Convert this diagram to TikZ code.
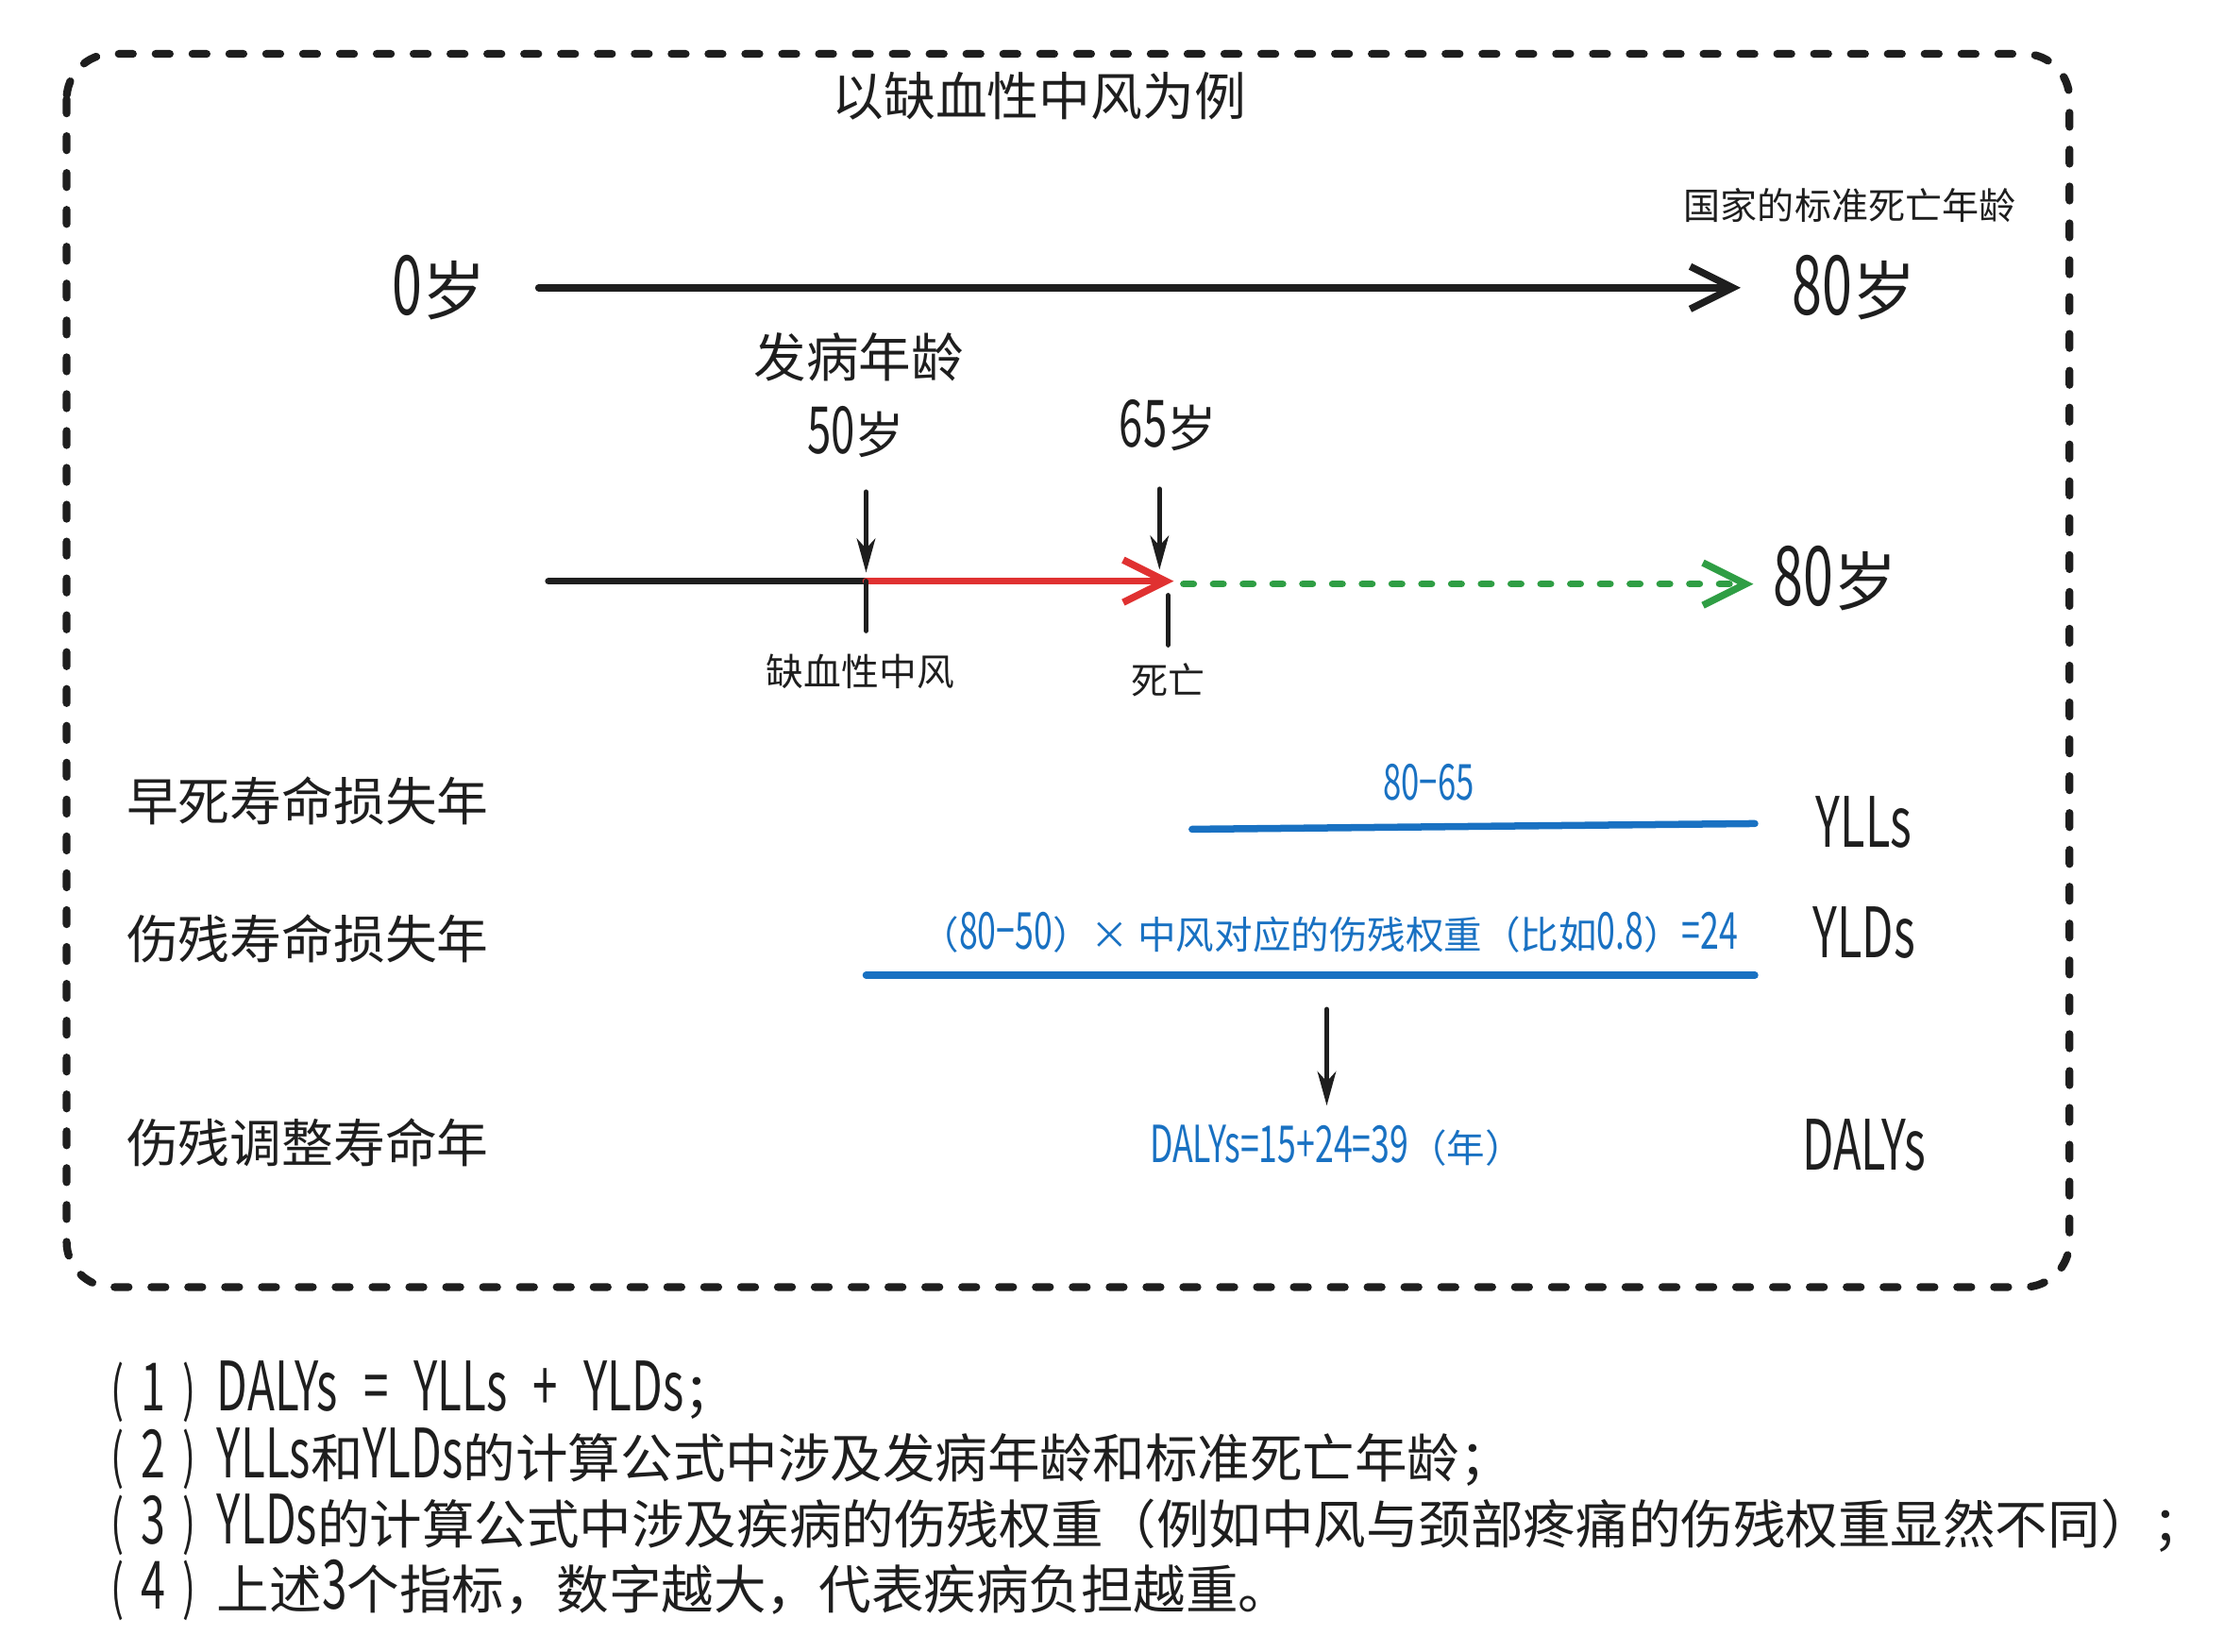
\documentclass[tikz,border=0pt]{standalone}
\usepackage{fontspec}
\setmainfont{Noto Sans CJK SC}
\newfontfamily\nar[FakeStretch=0.66]{Noto Sans CJK SC}
\usetikzlibrary{arrows.meta}
\definecolor{ink}{HTML}{1E1E1E}
\definecolor{exblue}{HTML}{1971C2}
\definecolor{exred}{HTML}{E03131}
\definecolor{exgreen}{HTML}{2F9E44}
\newcommand\LT[2]{{\fontsize{#1}{#1}\nar #2}}
\newcommand\FS[1]{\fontsize{#1}{#1}\selectfont}
\newcommand\NUM[1]{\LT{42}{(}\hspace{12pt}\LT{47}{#1}\hspace{12pt}\LT{42}{)}\hspace{15pt}}
\tikzset{
  txt/.style={inner sep=0pt, text=ink},
  btxt/.style={inner sep=0pt, text=exblue},
  thick line/.style={line width=5pt, line cap=round, line join=round},
  chev/.style={-{Straight Barb[length=30pt,width=30pt,line width=5pt]}},
  thin arrow/.style={line width=3.5pt, line cap=round, -{Stealth[length=24pt,width=13pt,inset=7pt]}},
  tickline/.style={line width=3.5pt, line cap=round, ink},
}
\begin{document}
\begin{tikzpicture}[x=1pt,y=-1pt]
\useasboundingbox (0,0) rectangle (1569,1165);
% frame
\draw[ink, line width=5.5pt, line cap=round, dash pattern=on 10pt off 16pt, rounded corners=32pt]
  (47,38) rectangle (1460,908);
% texts
\node[txt] (title) at (733,68) {\FS{36.5}以缺血性中风为例};
\node[txt] (std) at (1305,145) {\FS{26}国家的标准死亡年龄};
\node[txt] (age0) at (310,203) {\LT{58}{0}\FS{45}岁};
\node[txt] (age80a) at (1308,203) {\LT{58}{80}\FS{45}岁};
\node[txt] (onset) at (606,252) {\FS{37}发病年龄};
\node[txt] (age50) at (604,305) {\LT{46}{50}\FS{35}岁};
\node[txt] (age65) at (824,300) {\LT{46}{65}\FS{35}岁};
\node[txt] (age80b) at (1295,408) {\LT{58}{80}\FS{45}岁};
\node[txt] (stroke) at (607,474) {\FS{26.5}缺血性中风};
\node[txt] (death) at (824,480) {\FS{26}死亡};
\node[txt] (r1) at (217,565) {\FS{36.5}早死寿命损失年};
\node[txt] (r2) at (217,662) {\FS{36.5}伤残寿命损失年};
\node[txt] (r3) at (217,806) {\FS{36.5}伤残调整寿命年};
\node[btxt] (f1) at (1008,552) {\LT{35}{80−65}};
\node[txt] (yll) at (1315,580) {\LT{49}{YLLs}};
\node[txt] (yld) at (1315,658) {\LT{49}{YLDs}};
\node[txt] (daly) at (1315,808) {\LT{49}{DALYs}};
\node[btxt] (f2) at (938,658) {\FS{27}（\LT{36}{80−50}）× 中风对应的伤残权重（比如\LT{36}{0.8}）\LT{36}{=24}};
\node[btxt] (f3) at (943,808) {\LT{36}{DALYs=15+24=39}\FS{27}（年）};
% notes
\node[txt, anchor=west] (n1) at (78,982) {\FS{37}\NUM{1}\LT{48}{DALYs\hspace{18pt}=\hspace{18pt}YLLs\hspace{18pt}+\hspace{18pt}YLDs}；};
\node[txt, anchor=west] (n2) at (78,1029) {\FS{37}\NUM{2}\LT{48}{YLLs}和\LT{48}{YLDs}的计算公式中涉及发病年龄和标准死亡年龄；};
\node[txt, anchor=west] (n3) at (78,1076) {\FS{37}\NUM{3}\LT{48}{YLDs}的计算公式中涉及疾病的伤残权重（例如中风与颈部疼痛的伤残权重显然不同）；};
\node[txt, anchor=west] (n4) at (78,1122) {\FS{37}\NUM{4}上述\LT{48}{3}个指标，数字越大，代表疾病负担越重。};
% coordinates
\coordinate (a0) at (380,203);
\coordinate (a1) at (1228,203);
\coordinate (b0) at (387,410);
\coordinate (b1) at (611,410);
\coordinate (b2) at (828,410);
\coordinate (b3) at (835,412);
\coordinate (b4) at (1237,412);
\coordinate (d1a) at (611,347);
\coordinate (d1b) at (611,404);
\coordinate (d2a) at (818,345);
\coordinate (d2b) at (818,402);
\coordinate (t1a) at (611,410);
\coordinate (t1b) at (611,445);
\coordinate (t2a) at (824,420);
\coordinate (t2b) at (824,455);
\coordinate (y1a) at (841,585);
\coordinate (y1b) at (1238,581);
\coordinate (y2a) at (611,688);
\coordinate (y2b) at (1238,688);
\coordinate (d3a) at (936,712);
\coordinate (d3b) at (936,780);
% lines
\draw[thick line, chev, ink] (a0) -- (a1);
\draw[thick line, ink] (b0) -- (b1);
\draw[thick line, chev, exred] (b1) -- (b2);
\draw[thick line, chev, exgreen, dash pattern=on 7pt off 14pt] (b3) -- (b4);
\draw[thin arrow, ink] (d1a) -- (d1b);
\draw[thin arrow, ink] (d2a) -- (d2b);
\draw[tickline] (t1a) -- (t1b);
\draw[tickline] (t2a) -- (t2b);
\draw[thick line, exblue] (y1a) -- (y1b);
\draw[thick line, exblue] (y2a) -- (y2b);
\draw[thin arrow, ink] (d3a) -- (d3b);
\end{tikzpicture}
\end{document}
